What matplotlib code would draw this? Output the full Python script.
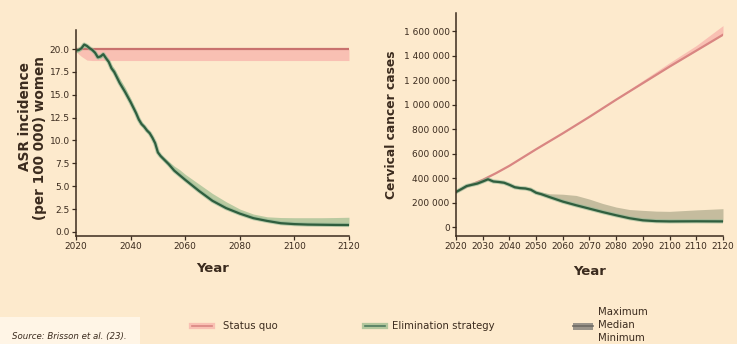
import matplotlib
matplotlib.use("Agg")
import matplotlib.pyplot as plt
from matplotlib.lines import Line2D
from matplotlib.patches import Rectangle
from matplotlib.ticker import FuncFormatter

plt.rcParams['font.family'] = ['DejaVu Sans']

BG = '#fdeacd'
INK = '#3b2b1e'
PINK = '#d98682'
PINK_BAND = '#f9c0b3'
GREEN = '#2f5e3e'
GREEN_HALO = '#8fb592'

# --- ASR incidence per 100 000 women ---
sq_years_l = [2020, 2022, 2024, 2026, 2120]
sq_med_l = [20.0, 20.0, 20.0, 20.0, 20.0]
sq_min_l = [19.7, 19.2, 18.8, 18.75, 18.75]

el_years_l = [2020, 2021, 2022, 2023, 2024, 2025, 2026, 2027, 2028, 2029, 2030,
              2031, 2032, 2033, 2034, 2036, 2038, 2040, 2042, 2043, 2044, 2045,
              2046, 2047, 2048, 2049, 2050, 2051, 2052, 2054, 2056, 2058, 2060,
              2065, 2070, 2075, 2080, 2085, 2090, 2095, 2100, 2105, 2110, 2115, 2120]
el_med_l = [19.85, 19.9, 20.1, 20.5, 20.35, 20.1, 19.9, 19.6, 19.1, 19.2, 19.45,
            19.0, 18.6, 17.9, 17.5, 16.3, 15.3, 14.2, 13.0, 12.3, 11.8, 11.5,
            11.1, 10.8, 10.3, 9.7, 8.7, 8.3, 8.0, 7.4, 6.7, 6.2, 5.7,
            4.5, 3.4, 2.6, 2.0, 1.5, 1.2, 0.95, 0.85, 0.8, 0.78, 0.76, 0.75]
el_max_l = [20.0, 20.1, 20.3, 20.7, 20.5, 20.3, 20.1, 19.8, 19.4, 19.4, 19.6,
            19.3, 18.9, 18.3, 17.9, 16.8, 15.8, 14.6, 13.3, 12.6, 12.1, 11.7,
            11.3, 11.0, 10.5, 9.9, 8.9, 8.5, 8.2, 7.7, 7.2, 6.8, 6.3,
            5.25, 4.2, 3.3, 2.5, 1.95, 1.65, 1.57, 1.55, 1.55, 1.55, 1.57, 1.6]
el_min_l = [19.6, 19.7, 19.9, 20.2, 20.1, 19.9, 19.7, 19.4, 18.9, 19.0, 19.2,
            18.8, 18.4, 17.6, 17.2, 16.1, 15.1, 14.0, 12.8, 12.1, 11.6, 11.3,
            10.9, 10.6, 10.1, 9.5, 8.5, 8.1, 7.8, 7.2, 6.6, 6.1, 5.6,
            4.4, 3.35, 2.55, 1.95, 1.45, 1.15, 0.9, 0.8, 0.75, 0.72, 0.7, 0.7]

# --- cervical cancer cases ---
sq_years_r = [2020, 2025, 2030, 2035, 2040, 2050, 2060, 2070, 2080, 2090, 2100, 2110, 2120]
sq_med_r = [286e3, 340e3, 385e3, 440e3, 500e3, 635e3, 765e3, 900e3, 1040e3,
            1175e3, 1310e3, 1440e3, 1570e3]
sq_max_r = [286e3, 341e3, 387e3, 442e3, 503e3, 638e3, 769e3, 906e3, 1050e3,
            1197e3, 1342e3, 1482e3, 1645e3]

el_years_r = [2020, 2022, 2024, 2026, 2028, 2030, 2032, 2034, 2036, 2038, 2040,
              2042, 2044, 2046, 2048, 2050, 2052, 2055, 2060, 2065, 2070, 2075,
              2080, 2085, 2090, 2095, 2100, 2110, 2120]
el_med_r = [286e3, 310e3, 335e3, 345e3, 355e3, 372e3, 390e3, 372e3, 368e3, 362e3, 345e3,
            325e3, 318e3, 315e3, 305e3, 280e3, 268e3, 245e3, 208e3, 178e3, 150e3, 122e3,
            96e3, 72e3, 55e3, 48e3, 46e3, 47e3, 46e3]
el_max_r = [290e3, 314e3, 340e3, 350e3, 362e3, 380e3, 395e3, 382e3, 378e3, 372e3, 355e3,
            338e3, 330e3, 325e3, 318e3, 295e3, 285e3, 272e3, 268e3, 258e3, 228e3, 192e3,
            163e3, 143e3, 136e3, 130e3, 128e3, 140e3, 150e3]
el_min_r = [282e3, 305e3, 330e3, 340e3, 350e3, 366e3, 384e3, 366e3, 362e3, 356e3, 338e3,
            318e3, 311e3, 308e3, 298e3, 274e3, 262e3, 240e3, 204e3, 175e3, 147e3, 119e3,
            93e3, 70e3, 53e3, 46e3, 44e3, 45e3, 44e3]

fig = plt.figure(figsize=(7.37, 3.44), dpi=100, facecolor=BG)
ax1 = fig.add_axes([0.1031, 0.314, 0.3704, 0.599])
ax2 = fig.add_axes([0.6187, 0.314, 0.3623, 0.648])


def style(ax):
    ax.set_facecolor(BG)
    for s in ('top', 'right'):
        ax.spines[s].set_visible(False)
    for s in ('left', 'bottom'):
        ax.spines[s].set_color(INK)
        ax.spines[s].set_linewidth(1.1)
    ax.tick_params(colors=INK, labelcolor=INK, labelsize=6.5, length=3, width=0.9, pad=1.5)


# left panel
style(ax1)
ax1.fill_between(sq_years_l, sq_min_l, sq_med_l, color=PINK_BAND, lw=0)
ax1.plot(sq_years_l, sq_med_l, color='#c9726e', lw=1.6)
ax1.fill_between(el_years_l, el_min_l, el_max_l, color='#b3c79d', alpha=0.9, lw=0)
ax1.plot(el_years_l, el_med_l, color=GREEN_HALO, lw=3.0, alpha=0.6)
ax1.plot(el_years_l, el_med_l, color=GREEN, lw=1.6)
ax1.set_xlim(2020, 2120)
ax1.set_ylim(-0.45, 22.1)
ax1.set_xticks([2020, 2040, 2060, 2080, 2100, 2120])
ax1.set_yticks([0, 2.5, 5, 7.5, 10, 12.5, 15, 17.5, 20])
ax1.yaxis.set_major_formatter(FuncFormatter(lambda v, p: f'{v:.1f}'))
ax1.set_xlabel('Year', fontsize=9.5, fontweight='bold', color=INK, labelpad=8)
fig.text(25 / 737, 1 - 117 / 344, 'ASR incidence', rotation=90, fontsize=9.8,
         fontweight='bold', color=INK, ha='center', va='center')
fig.text(40 / 737, 1 - 138 / 344, '(per 100 000) women', rotation=90, fontsize=9.8,
         fontweight='bold', color=INK, ha='center', va='center')

# right panel
style(ax2)
ax2.fill_between(sq_years_r, sq_med_r, sq_max_r, color=PINK_BAND, lw=0)
ax2.plot(sq_years_r, sq_med_r, color=PINK, lw=1.6)
ax2.fill_between(el_years_r, el_min_r, el_max_r, color='#c2ba9c', alpha=0.95, lw=0)
ax2.plot(el_years_r, el_med_r, color=GREEN_HALO, lw=3.0, alpha=0.6)
ax2.plot(el_years_r, el_med_r, color=GREEN, lw=1.6)
ax2.set_xlim(2020, 2120)
ax2.set_ylim(-73e3, 1.747e6)
ax2.set_xticks(list(range(2020, 2121, 10)))
ax2.set_yticks(list(range(0, 1600001, 200000)))
ax2.yaxis.set_major_formatter(FuncFormatter(lambda v, p: f'{int(v):,}'.replace(',', ' ')))
ax2.set_xlabel('Year', fontsize=9.5, fontweight='bold', color=INK, labelpad=10)
ax2.set_ylabel('Cervical cancer cases', fontsize=8.8, fontweight='bold', color=INK, labelpad=4)

# legend row
ly = 1 - 326 / 344
fig.add_artist(Line2D([192 / 737, 212 / 737], [ly, ly], transform=fig.transFigure,
                      color=PINK_BAND, lw=4.5))
fig.add_artist(Line2D([192 / 737, 212 / 737], [ly, ly], transform=fig.transFigure,
                      color=PINK, lw=1.2))
fig.text(223 / 737, ly, 'Status quo', fontsize=7.3, color=INK, va='center')
fig.add_artist(Line2D([365 / 737, 385 / 737], [ly, ly], transform=fig.transFigure,
                      color='#b3c79d', lw=4.5))
fig.add_artist(Line2D([365 / 737, 385 / 737], [ly, ly], transform=fig.transFigure,
                      color='#4f7b5e', lw=1.2))
fig.text(392 / 737, ly, 'Elimination strategy', fontsize=7.3, color=INK, va='center')
fig.add_artist(Rectangle((573 / 737, 1 - 330 / 344), 20 / 737, 7 / 344,
                         transform=fig.transFigure, color='#9a948a', lw=0))
fig.add_artist(Line2D([573 / 737, 593 / 737], [ly, ly], transform=fig.transFigure,
                      color='#6e6a64', lw=1.2))
fig.text(598 / 737, 1 - 312 / 344, 'Maximum', fontsize=7.3, color=INK, va='center')
fig.text(598 / 737, 1 - 325 / 344, 'Median', fontsize=7.3, color=INK, va='center')
fig.text(598 / 737, 1 - 338 / 344, 'Minimum', fontsize=7.3, color=INK, va='center')

# source note
fig.add_artist(Rectangle((0, 0), 0.19, 0.078, transform=fig.transFigure,
                         color='#fff5e6', lw=0))
fig.text(0.016, 0.022, 'Source: Brisson et al. (23).', fontsize=6.2, color=INK,
         style='italic', va='center')

fig.savefig('out.png', dpi=100, facecolor=BG)
